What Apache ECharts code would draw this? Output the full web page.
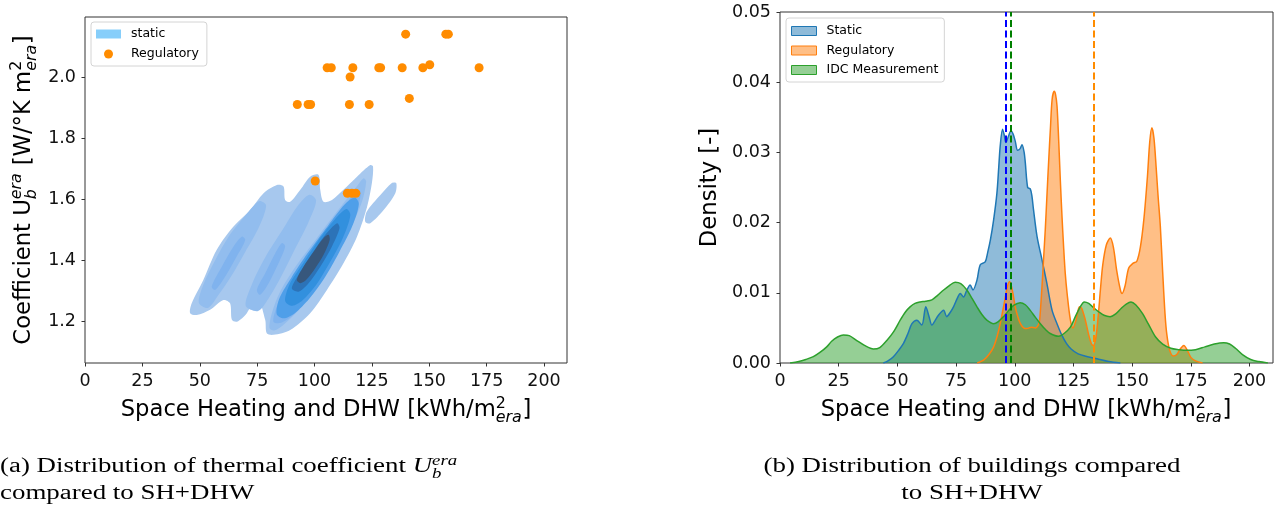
<!DOCTYPE html>
<html><head><meta charset="utf-8">
<script src="https://cdn.jsdelivr.net/npm/echarts@6/dist/echarts.min.js"></script>
<style>html,body{margin:0;padding:0;background:#fff}#c{width:1276px;height:510px}</style>
</head><body><div id="c"></div>
<script>
// ---------------- data ----------------
const xTicks = [0, 25, 50, 75, 100, 125, 150, 175, 200];
const uTicks = [1.2, 1.4, 1.6, 1.8, 2.0];

// Regulatory buildings: [SH+DHW, U_b^era]
const regulatoryPoints = [
  [139.7,2.14],[157.2,2.14],[158.3,2.14],[105.5,2.03],[107.3,2.03],[116.7,2.03],[115.5,2.00],
  [128.0,2.03],[128.8,2.03],[138.2,2.03],[147.2,2.03],[150.2,2.04],[171.7,2.03],[141.3,1.93],
  [92.5,1.91],[97.2,1.91],[98.3,1.91],[115.2,1.91],[123.8,1.91],[100.3,1.66],
  [114.3,1.62],[116.3,1.62],[118.0,1.62]
];

// KDE contour outlines of the "static" population, [SH+DHW, U]
const contourOuter = [[45.8,1.228],[46.5,1.260],[51.6,1.337],[57.4,1.435],[64.7,1.511],[72.0,1.565],[77.8,1.620],[83.6,1.647],[86.5,1.642],[87.2,1.598],[89.4,1.592],[93.8,1.631],[98.1,1.674],[101.7,1.680],[102.5,1.631],[103.9,1.592],[107.6,1.598],[112.6,1.631],[118.5,1.674],[124.3,1.712],[125.5,1.707],[125.0,1.653],[122.9,1.576],[118.5,1.478],[112.6,1.391],[105.4,1.304],[98.1,1.228],[89.4,1.173],[82.1,1.157],[79.2,1.162],[78.5,1.206],[74.9,1.282],[70.5,1.228],[66.2,1.200],[64.0,1.206],[63.2,1.260],[60.3,1.271],[54.5,1.239],[48.7,1.222]];
const contourBlob = [[122.1,1.527],[122.8,1.560],[128.7,1.614],[133.7,1.653],[135.6,1.653],[135.2,1.620],[130.1,1.565],[124.3,1.522]];
const ridge1L2 = [[49.6,1.262],[51.6,1.322],[56.6,1.399],[62.4,1.476],[69.8,1.546],[75.8,1.594],[78.9,1.580],[75.6,1.506],[69.8,1.428],[63.9,1.351],[58.1,1.287],[53.6,1.245]];
const ridge1L3 = [[55.2,1.315],[59.6,1.380],[64.7,1.446],[68.3,1.478],[69.8,1.467],[66.1,1.413],[61.1,1.348],[56.7,1.304]];
const ridge2L2 = [[70.0,1.252],[72.7,1.322],[78.5,1.410],[85.8,1.497],[93.1,1.583],[97.8,1.615],[100.7,1.596],[97.4,1.526],[91.6,1.439],[85.7,1.351],[79.9,1.275],[75.4,1.235]];
const ridge2L3 = [[74.9,1.304],[78.5,1.358],[82.9,1.424],[85.8,1.457],[87.2,1.446],[84.3,1.391],[80.0,1.326],[76.3,1.288]];
const ridge3L2 = [[80.4,1.179],[81.4,1.228],[85.0,1.298],[92.3,1.386],[101.0,1.473],[109.8,1.560],[117.8,1.636],[121.4,1.669],[122.5,1.658],[120.7,1.593],[115.3,1.500],[108.0,1.402],[100.7,1.315],[93.8,1.244],[86.5,1.190],[82.4,1.171]];
const ridge3L3 = [[82.1,1.200],[83.6,1.250],[88.0,1.315],[95.2,1.397],[103.9,1.484],[111.9,1.565],[118.5,1.631],[120.2,1.620],[117.8,1.554],[112.7,1.473],[106.1,1.380],[99.6,1.304],[92.3,1.233],[85.8,1.197]];
const ridge3L4 = [[83.5,1.225],[84.8,1.278],[89.9,1.344],[97.1,1.425],[105.8,1.513],[113.1,1.583],[117.5,1.606],[119.3,1.585],[116.6,1.515],[110.8,1.428],[104.2,1.341],[97.7,1.275],[91.1,1.226],[86.5,1.211]];
const ridge3L5 = [[87.2,1.268],[89.1,1.322],[94.2,1.382],[101.5,1.464],[108.8,1.534],[113.9,1.568],[115.6,1.548],[112.2,1.471],[106.4,1.390],[100.6,1.319],[94.8,1.270],[90.3,1.252]];
const ridge3L6 = [[90.1,1.309],[93.0,1.353],[98.1,1.413],[104.7,1.484],[109.8,1.522],[110.9,1.506],[107.6,1.446],[102.5,1.380],[97.4,1.326],[93.0,1.298]];
const ridge3L7 = [[92.3,1.337],[95.2,1.380],[99.6,1.429],[103.9,1.473],[106.1,1.484],[106.6,1.467],[103.9,1.418],[100.3,1.375],[96.4,1.337],[93.8,1.326]];
// [outline, density level]
const contourLevels = [[contourOuter,0],[contourBlob,0],[ridge1L2,1],[ridge1L3,2],[ridge2L2,1],[ridge2L3,2],[ridge3L2,1],[ridge3L3,2],[ridge3L4,3],[ridge3L5,4],[ridge3L6,5],[ridge3L7,6]];

// Density curves [SH+DHW, density]
const staticDensity = [[44,0],[46,0.0003],[48.3,0.0009],[50.5,0.0018],[52.6,0.0028],[54.5,0.0042],[56.2,0.0056],[58.3,0.0061],[60.4,0.0054],[62.1,0.0080],[63.5,0.0066],[64.7,0.0054],[66,0.0060],[67.5,0.0068],[69.7,0.0075],[71,0.0066],[72.5,0.0072],[73.9,0.0080],[75.5,0.0092],[76.8,0.0099],[78.2,0.0094],[79.6,0.0104],[81,0.0111],[82.2,0.0104],[83.9,0.0118],[85.3,0.0140],[87.4,0.0144],[88.5,0.0158],[89.6,0.0175],[91,0.0204],[92.4,0.0242],[93.2,0.0280],[93.8,0.0309],[94.8,0.0333],[95.5,0.0325],[96.2,0.0314],[97.2,0.0322],[98.4,0.0331],[99.3,0.0326],[100.2,0.0316],[101.2,0.0303],[102.2,0.0305],[103.1,0.0311],[104,0.0300],[104.5,0.0285],[105.5,0.0250],[106.6,0.0248],[107.3,0.0238],[108,0.0218],[109.5,0.0180],[111.6,0.0147],[113.7,0.0113],[115.9,0.0075],[118,0.0056],[120,0.0040],[122,0.0028],[124,0.0020],[127,0.0013],[131,0.0009],[135,0.0006],[140,0.0002],[145,0]];
const regulatoryDensity = [[84,0],[86.7,0.0004],[89,0.0012],[91,0.0023],[92.5,0.0038],[93.8,0.0056],[95.5,0.0085],[96.8,0.0108],[97.8,0.0116],[99,0.0103],[100.2,0.0080],[101.3,0.0066],[102.4,0.0056],[103.8,0.0050],[105.2,0.0049],[107,0.0051],[108.8,0.0050],[110,0.0054],[110.6,0.0061],[111.6,0.0109],[112.3,0.0150],[113,0.0190],[113.7,0.0238],[114.4,0.0285],[115.2,0.0335],[115.9,0.0375],[116.8,0.0387],[117.4,0.0382],[118,0.0366],[118.7,0.0318],[119.4,0.0261],[120.1,0.0210],[120.8,0.0166],[121.5,0.0128],[122.3,0.0099],[123.7,0.0061],[124.8,0.0050],[126,0.0060],[127.6,0.0080],[128.5,0.0078],[130,0.0062],[131.5,0.0040],[132.7,0.0027],[133.5,0.0025],[134.5,0.0035],[135.5,0.0065],[136.5,0.0105],[137.5,0.0140],[139,0.0168],[140.7,0.0178],[142,0.0165],[143.5,0.0130],[145,0.0104],[145.7,0.0099],[147,0.0110],[148.5,0.0135],[150.3,0.0142],[152,0.0145],[153.5,0.0165],[155,0.0205],[156.5,0.0265],[157.5,0.0315],[158.4,0.0335],[159.3,0.0320],[160.2,0.0280],[161,0.0240],[162,0.0195],[163,0.0130],[164,0.0070],[164.8,0.0040],[166,0.0018],[167.5,0.0010],[169,0.0012],[170.5,0.0020],[172,0.0025],[173.5,0.0018],[175,0.0008],[177,0.0003],[180,0]];
const idcDensity = [[4.3,0],[8,0.0002],[11,0.0005],[14.2,0.0009],[17,0.0015],[19.9,0.0023],[22,0.0031],[24.5,0.0037],[27,0.0040],[29.5,0.0039],[32.7,0.0032],[36,0.0025],[39.8,0.0020],[42.5,0.0022],[45.5,0.0032],[48.5,0.0045],[51.2,0.0061],[53.5,0.0073],[55.4,0.0080],[57.5,0.0085],[59.7,0.0087],[62,0.0088],[64.7,0.0090],[67,0.0096],[69.7,0.0104],[72,0.0110],[74.6,0.0115],[77,0.0113],[79.6,0.0104],[81.8,0.0092],[83.9,0.0080],[86,0.0069],[88.1,0.0061],[91,0.0056],[93,0.0059],[95.2,0.0066],[97.5,0.0075],[99.5,0.0082],[102.3,0.0086],[104.5,0.0083],[106.6,0.0075],[108.8,0.0065],[110.9,0.0056],[113,0.0048],[115.1,0.0042],[118.7,0.0038],[121,0.0042],[123.7,0.0051],[125.8,0.0066],[127.9,0.0080],[129.6,0.0087],[131.5,0.0085],[133.5,0.0079],[135.7,0.0073],[138,0.0068],[140.6,0.0066],[143,0.0070],[145.4,0.0078],[147.5,0.0084],[149.5,0.0087],[151.5,0.0083],[154.3,0.0071],[157,0.0055],[160,0.0037],[163,0.0027],[166.5,0.0021],[170,0.0019],[173,0.0018],[177,0.0019],[181,0.0023],[185,0.0027],[189,0.0029],[191.5,0.0027],[194,0.0021],[197,0.0012],[200.5,0.0005],[204,0.0002],[207.8,0]];
const meanStatic = 96.0, meanIdc = 98.4, meanRegulatory = 133.5;

// texts
const xTitle = [{t:'Space Heating and DHW [kWh/m'}, {sup:'2', sub:'era', subIt:true}, {t:']'}];
const yTitleLeft = [{t:'Coefficient U'}, {sup:'era', supIt:true, sub:'b', subIt:true}, {t:' [W/°K m'}, {sup:'2', sub:'era', subIt:true}, {t:']'}];
const yTitleRight = [{t:'Density [-]'}];
const capA1 = [{t:'(a) Distribution of thermal coefficient '}, {t:'U', it:true}, {sup:'era', supIt:true, sub:'b', subIt:true}];
const capA2 = [{t:'compared to SH+DHW'}];
const capB1 = [{t:'(b) Distribution of buildings compared'}];
const capB2 = [{t:'to SH+DHW'}];

// ---------------- style / layout ----------------
const SANS = 'DejaVu Sans', SERIF = 'Liberation Serif';
const levelColors = ['#a7c8ee','#92bdee','#80b3ee','#4f9fe9','#3290de','#2c73b8','#37577c'];
const mctx = document.createElement('canvas').getContext('2d');
function textW(t, size, it, fam){ mctx.font = (it?'italic ':'') + size + 'px "' + fam + '"'; return mctx.measureText(t).width; }
function mathGroup(segs, size, fam, o){
  const small = size*0.7, kids=[]; let x=0;
  const put = (t, it, sz, base) => {
    kids.push({type:'text', x:x, y: base - 0.346*sz, silent:true,
      style:{text:t, fontSize:sz, fontFamily:fam, fontStyle: it?'italic':'normal', fill:'#000',
             align:'left', verticalAlign:'middle', textAlign:'left', textVerticalAlign:'middle'}});
    return textW(t, sz, it, fam);
  };
  for (const s of segs){
    if (s.t !== undefined) x += put(s.t, s.it, size, 0);
    else { const w1 = put(s.sup, s.supIt, small, -0.40*size); const w2 = put(s.sub, s.subIt, small, 0.24*size); x += Math.max(w1,w2) + 0.03*size; }
  }
  const shift = o.align === 'center' ? -x/2 : 0;
  kids.forEach(k => { k.x += shift; });
  return {type:'group', x:o.x, y:o.y, rotation:o.rotation||0, scaleX:o.scaleX||1, silent:true, children:kids};
}
const capSize = 20.5;
const capScale = 417 / textW(capB1[0].t, capSize, false, SERIF);
const titleSize = 22.7;

const tickFont = {fontSize:17.5, color:'#111', fontFamily:SANS};
const chart = echarts.init(document.getElementById('c'), null, {renderer:'canvas'});
const axisCommon = {type:'value', splitLine:{show:false}, axisLine:{show:false},
  axisTick:{show:true, inside:false, length:3.5, lineStyle:{color:'#333', width:1}}};

const option = {
  animation:false,
  backgroundColor:'#fff',
  grid:[
    {left:85, top:17, width:482, height:346, show:true, borderColor:'#333', borderWidth:1},
    {left:780, top:12, width:493, height:351, show:true, borderColor:'#333', borderWidth:1}
  ],
  xAxis:[
    Object.assign({}, axisCommon, {gridIndex:0, min:0, max:210,
      axisTick:Object.assign({}, axisCommon.axisTick, {customValues:xTicks}),
      axisLabel:Object.assign({customValues:xTicks, margin:9}, tickFont)}),
    Object.assign({}, axisCommon, {gridIndex:1, min:0, max:210,
      axisTick:Object.assign({}, axisCommon.axisTick, {customValues:xTicks}),
      axisLabel:Object.assign({customValues:xTicks, margin:9}, tickFont)})
  ],
  yAxis:[
    Object.assign({}, axisCommon, {gridIndex:0, min:1.065, max:2.196,
      axisTick:Object.assign({}, axisCommon.axisTick, {customValues:uTicks}),
      axisLabel:Object.assign({customValues:uTicks, margin:9, formatter:v=>v.toFixed(1)}, tickFont)}),
    Object.assign({}, axisCommon, {gridIndex:1, min:0, max:0.05, interval:0.01,
      axisLabel:Object.assign({margin:9, formatter:v=>v.toFixed(2)}, tickFont)})
  ],
  legend:[
    {orient:'vertical', left:91, top:22, itemWidth:25, itemHeight:9, itemGap:6, selectedMode:false,
     padding:[5,8,5,5], borderColor:'#d4d4d4', borderWidth:1, borderRadius:3, backgroundColor:'rgba(255,255,255,0.8)',
     textStyle:{fontSize:12.5, fontFamily:SANS, color:'#000', lineHeight:14, padding:[0,0,0,5]},
     data:[{name:'static', icon:'rect', itemStyle:{color:'#87cefa', borderWidth:0}},
           {name:'Regulatory', icon:'circle', itemStyle:{color:'#ff8c00', borderWidth:0}}]},
    {orient:'vertical', left:786, top:18, itemWidth:25, itemHeight:9, itemGap:5.5, selectedMode:false,
     padding:[6,6,5,5], borderColor:'#d4d4d4', borderWidth:1, borderRadius:3, backgroundColor:'rgba(255,255,255,0.8)',
     textStyle:{fontSize:12.5, fontFamily:SANS, color:'#000', lineHeight:14, padding:[0,0,0,5]},
     data:[{name:'Static', icon:'rect', itemStyle:{color:'rgba(31,119,180,0.5)', borderColor:'#1f77b4', borderWidth:1}},
           {name:'Regulatory', icon:'rect', itemStyle:{color:'rgba(255,127,14,0.5)', borderColor:'#ff7f0e', borderWidth:1}},
           {name:'IDC Measurement', icon:'rect', itemStyle:{color:'rgba(44,160,44,0.5)', borderColor:'#2ca02c', borderWidth:1}}]}
  ],
  series:[
    {type:'custom', name:'static', xAxisIndex:0, yAxisIndex:0, clip:true, silent:true,
     itemStyle:{color:'#87cefa'},
     data: contourLevels.map((c,i)=>[c[0][0][0], c[0][0][1], i]),
     renderItem:(params, api)=>{
       const c = contourLevels[api.value(2)];
       return {type:'polygon', shape:{points:c[0].map(p=>api.coord(p)), smooth:0.3},
               style:{fill:levelColors[c[1]]}};
     }, z:2},
    {type:'scatter', name:'Regulatory', xAxisIndex:0, yAxisIndex:0, data:regulatoryPoints,
     symbolSize:9, itemStyle:{color:'#ff8c00', opacity:1}, z:4},
    {type:'line', name:'Static', xAxisIndex:1, yAxisIndex:1, data:staticDensity, smooth:0.3,
     showSymbol:false, symbol:'none', lineStyle:{color:'#1f77b4', width:1.5}, itemStyle:{color:'#1f77b4'},
     areaStyle:{color:'#1f77b4', opacity:0.5},
     markLine:{silent:true, symbol:['none','none'], label:{show:false},
       lineStyle:{color:'#0000ff', type:[7,3.5], width:2}, data:[{xAxis:meanStatic}]}},
    {type:'line', name:'Regulatory', xAxisIndex:1, yAxisIndex:1, data:regulatoryDensity, smooth:0.3,
     showSymbol:false, symbol:'none', lineStyle:{color:'#ff7f0e', width:1.5}, itemStyle:{color:'#ff7f0e'},
     areaStyle:{color:'#ff7f0e', opacity:0.5},
     markLine:{silent:true, symbol:['none','none'], label:{show:false},
       lineStyle:{color:'#ff8c00', type:[7,3.5], width:2}, data:[{xAxis:meanRegulatory}]}},
    {type:'line', name:'IDC Measurement', xAxisIndex:1, yAxisIndex:1, data:idcDensity, smooth:0.3,
     showSymbol:false, symbol:'none', lineStyle:{color:'#2ca02c', width:1.5}, itemStyle:{color:'#2ca02c'},
     areaStyle:{color:'#2ca02c', opacity:0.5},
     markLine:{silent:true, symbol:['none','none'], label:{show:false},
       lineStyle:{color:'#008000', type:[7,3.5], width:2}, data:[{xAxis:meanIdc}]}}
  ],
  graphic:[
    mathGroup(xTitle, titleSize, SANS, {x:326, y:418, align:'center'}),
    mathGroup(xTitle, titleSize, SANS, {x:1026, y:418, align:'center'}),
    mathGroup(yTitleLeft, titleSize, SANS, {x:31.5, y:190, align:'center', rotation:Math.PI/2}),
    mathGroup(yTitleRight, titleSize, SANS, {x:718, y:187.5, align:'center', rotation:Math.PI/2}),
    mathGroup(capA1, capSize, SERIF, {x:0, y:474, scaleX:capScale}),
    mathGroup(capA2, capSize, SERIF, {x:0, y:501, scaleX:capScale}),
    mathGroup(capB1, capSize, SERIF, {x:972, y:474, align:'center', scaleX:capScale}),
    mathGroup(capB2, capSize, SERIF, {x:972, y:501, align:'center', scaleX:capScale})
  ]
};
chart.setOption(option);
</script></body></html>
